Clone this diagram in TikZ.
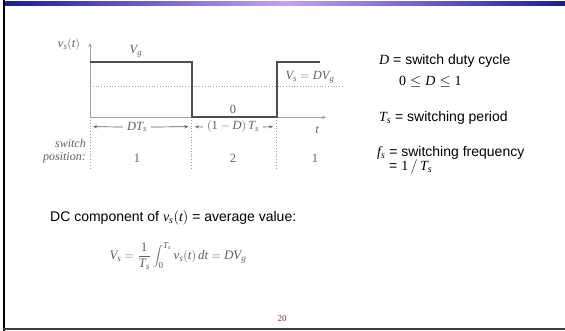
\documentclass[tikz,border=0pt]{standalone}
\usepackage{mathspec}
\setmainfont{Liberation Sans}
\setmathsfont(Digits,Latin){Liberation Serif}
\newfontfamily\tms{Liberation Serif}
\usetikzlibrary{arrows.meta}
\definecolor{navybar}{HTML}{1A1C9C}
\definecolor{lavbar}{HTML}{C4A2F2}
\definecolor{wavegray}{HTML}{4E4E4E}
\definecolor{axisgray}{HTML}{A0A0A0}
\definecolor{txtgray}{HTML}{606060}
\definecolor{pagenum}{HTML}{8E2A5A}
\tikzset{
  wave/.style={draw=wavegray, line width=1.8pt},
  axisline/.style={draw=axisgray, line width=0.9pt},
  dotline/.style={draw=axisgray, line width=0.8pt, dotted},
  dimarrow/.style={draw=txtgray, line width=0.7pt, -{Stealth[length=4pt,width=3pt]}},
  wlabel/.style={text=txtgray, font=\tms\fontsize{12.5}{14}\selectfont, inner sep=0pt},
  rtext/.style={anchor=west, inner sep=0pt, font=\fontsize{14}{16}\selectfont},
}
\begin{document}
\begin{tikzpicture}[x=1pt,y=-1pt]
\useasboundingbox (0,0) rectangle (565,331);
\fill[white] (0,0) rectangle (565,331);
% slide frame
\shade[left color=navybar, right color=navybar, middle color=lavbar] (5,1.3) rectangle (565,5.6);
\fill[black] (3,0) rectangle (5.2,331);
\fill[wavegray!80!black] (3,328.3) rectangle (565,330.2);
% axes
\coordinate (O) at (90,117.3);
\coordinate (ytop) at (90,43);
\coordinate (tend) at (326,117.3);
\draw[axisline,-{Stealth[length=4pt,width=3.5pt]}] (O) -- (ytop);
\draw[axisline,-{Stealth[length=4pt,width=3.5pt]}] (O) -- (tend);
% dotted lines
\coordinate (dA) at (90,86.7);
\coordinate (dB) at (343,86.7);
\draw[dotline] (dA) -- (dB);
\coordinate (v1a) at (90,117.3);   \coordinate (v1b) at (90,170);
\coordinate (v2a) at (191.7,117.3); \coordinate (v2b) at (191.7,170);
\coordinate (v3a) at (276.7,117.3); \coordinate (v3b) at (276.7,170);
\draw[dotline] (v1a) -- (v1b);
\draw[dotline] (v2a) -- (v2b);
\draw[dotline] (v3a) -- (v3b);
% waveform
\coordinate (w0) at (90,62.3);
\coordinate (w1) at (191.7,62.3);
\coordinate (w2) at (191.7,117.3);
\coordinate (w3) at (276.7,117.3);
\coordinate (w4) at (276.7,62.3);
\coordinate (w5) at (320,62.3);
\draw[wave] (w0) -- (w1) -- (w2) -- (w3) -- (w4) -- (w5);
% waveform labels
\node[wlabel] (vlab) at (69,45) {$v_s(t)$};
\node[wlabel] (vg) at (136,51) {$V_g$};
\node[wlabel] (vsdvg) at (310,77) {$V_s = DV_g$};
\node[wlabel] (zero) at (233,109) {0};
\node[wlabel] (tlab) at (317,130) {$t$};
\node[wlabel, inner xsep=4pt] (dts) at (137,127) {$DT_s$};
\node[wlabel, inner xsep=4pt] (omd) at (233,127) {$(1-D)\,T_s$};
\coordinate (a1) at (93,126.7);
\coordinate (a2) at (188.5,126.7);
\coordinate (a3) at (195,126.7);
\coordinate (a4) at (273,126.7);
\draw[dimarrow] (dts.west) -- (a1);
\draw[dimarrow] (dts.east) -- (a2);
\draw[dimarrow] (omd.west) -- (a3);
\draw[dimarrow] (omd.east) -- (a4);
\node[wlabel, anchor=east, align=right, font=\tms\itshape\fontsize{12}{13}\selectfont] (swpos) at (86,151.5) {switch\\position:};
\node[wlabel] (p1) at (137,158) {1};
\node[wlabel] (p2) at (233,158) {2};
\node[wlabel] (p3) at (315,158) {1};
% right text
\node[rtext] (dline) at (379,61) {$D$ = switch duty cycle};
\node[rtext] (drange) at (399,82) {$0 \le D \le 1$};
\node[rtext] (tsline) at (379,118) {$T_s$ = switching period};
\node[rtext] (fsline) at (377,153) {$f_s$ = switching frequency};
\node[rtext] (fsval) at (389,166.5) {= $1\,/\,T_s$};
% DC component
\node[rtext] (dc) at (50,218) {DC component of $v_s(t)$ = average value:};
\node[wlabel, font=\tms\fontsize{13}{15}\selectfont] (formula) at (178,256) {$\displaystyle V_s = \frac{1}{T_s}\int_0^{T_s} v_s(t)\,dt = DV_g$};
\node[inner sep=0pt, text=pagenum, font=\tms\fontsize{9}{10}\selectfont] (pg) at (282,319) {20};
\end{tikzpicture}
\end{document}
